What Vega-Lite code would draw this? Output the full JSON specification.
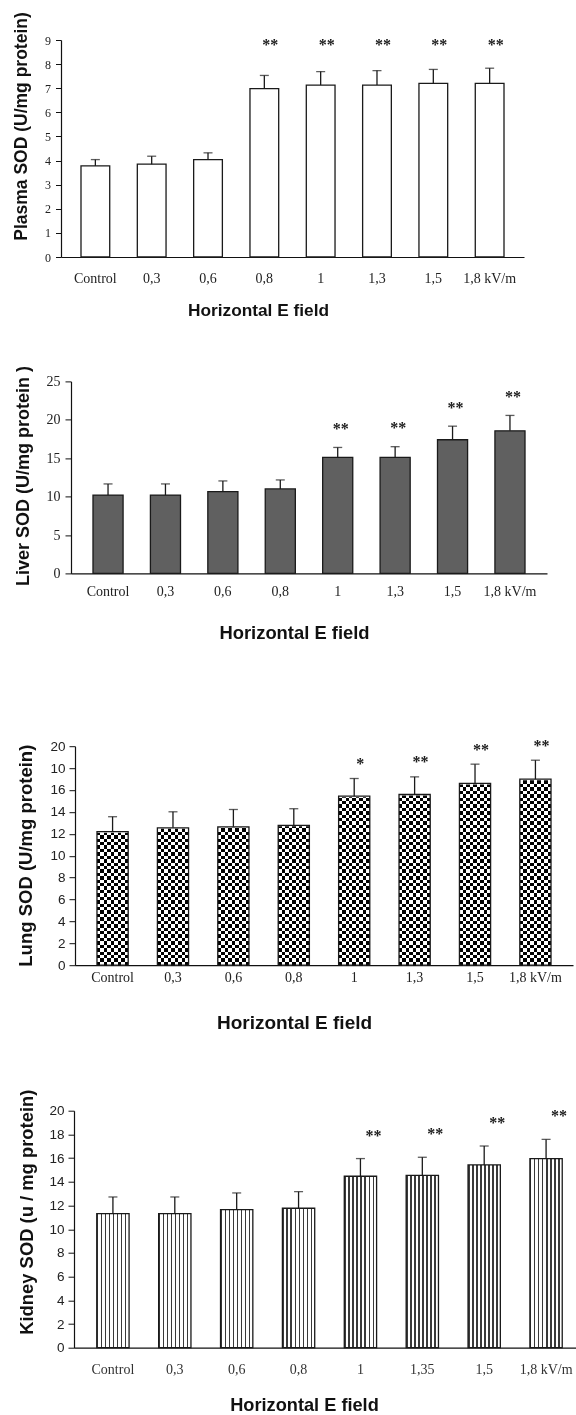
{
  "$schema": "https://vega.github.io/schema/vega-lite/v6.json",
  "background": "white",
  "padding": {"left": 0, "top": 11, "right": 0, "bottom": 0},
  "config": {
    "view": {"stroke": null},
    "axis": {"grid": false},
    "axisX": {"labelAngle": 0, "ticks": false, "tickSize": 0, "labelFont": "Liberation Serif", "labelFontSize": 14, "labelColor": "#222", "domainColor": "#111", "domainWidth": 1.2, "titleFont": "Liberation Sans", "titleFontWeight": "bold", "titleColor": "#111"},
    "axisY": {"domainColor": "#111", "domainWidth": 1.2, "tickColor": "#111", "tickSize": 6, "labelPadding": 5, "labelColor": "#222", "titleFont": "Liberation Sans", "titleFontWeight": "bold", "titleColor": "#111", "titleAngle": -90, "titleAlign": "center", "titleBaseline": "bottom"}
  },
  "datasets": {
    "plasma": [
      {"dose": "Control", "mean": 3.78, "upper": 4.04, "sig": ""},
      {"dose": "0,3", "mean": 3.85, "upper": 4.18, "sig": ""},
      {"dose": "0,6", "mean": 4.04, "upper": 4.32, "sig": ""},
      {"dose": "0,8", "mean": 6.98, "upper": 7.53, "sig": "**"},
      {"dose": "1", "mean": 7.13, "upper": 7.69, "sig": "**"},
      {"dose": "1,3", "mean": 7.13, "upper": 7.73, "sig": "**"},
      {"dose": "1,5", "mean": 7.2, "upper": 7.78, "sig": "**"},
      {"dose": "1,8 kV/m", "mean": 7.2, "upper": 7.83, "sig": "**"}
    ],
    "liver": [
      {"dose": "Control", "mean": 10.2, "upper": 11.65, "sig": ""},
      {"dose": "0,3", "mean": 10.2, "upper": 11.65, "sig": ""},
      {"dose": "0,6", "mean": 10.65, "upper": 12.04, "sig": ""},
      {"dose": "0,8", "mean": 11.0, "upper": 12.17, "sig": ""},
      {"dose": "1", "mean": 15.1, "upper": 16.4, "sig": "**"},
      {"dose": "1,3", "mean": 15.1, "upper": 16.5, "sig": "**"},
      {"dose": "1,5", "mean": 17.4, "upper": 19.17, "sig": "**"},
      {"dose": "1,8 kV/m", "mean": 18.57, "upper": 20.57, "sig": "**"}
    ],
    "lung": [
      {"dose": "Control", "mean": 12.19, "upper": 13.56, "sig": ""},
      {"dose": "0,3", "mean": 12.55, "upper": 14.01, "sig": ""},
      {"dose": "0,6", "mean": 12.64, "upper": 14.22, "sig": ""},
      {"dose": "0,8", "mean": 12.77, "upper": 14.29, "sig": ""},
      {"dose": "1", "mean": 15.44, "upper": 17.05, "sig": "*"},
      {"dose": "1,3", "mean": 15.59, "upper": 17.2, "sig": "**"},
      {"dose": "1,5", "mean": 16.6, "upper": 18.36, "sig": "**"},
      {"dose": "1,8 kV/m", "mean": 16.99, "upper": 18.72, "sig": "**"}
    ],
    "kidney": [
      {"dose": "Control", "mean": 11.32, "upper": 12.72, "sig": ""},
      {"dose": "0,3", "mean": 11.32, "upper": 12.72, "sig": ""},
      {"dose": "0,6", "mean": 11.66, "upper": 13.06, "sig": ""},
      {"dose": "0,8", "mean": 11.77, "upper": 13.17, "sig": ""},
      {"dose": "1", "mean": 14.47, "upper": 15.96, "sig": "**"},
      {"dose": "1,35", "mean": 14.55, "upper": 16.07, "sig": "**"},
      {"dose": "1,5", "mean": 15.42, "upper": 17.02, "sig": "**"},
      {"dose": "1,8 kV/m", "mean": 15.96, "upper": 17.58, "sig": "**"}
    ]
  },
  "spacing": 45.4,
  "vconcat": [
    {
      "spacing": 0,
      "hconcat": [
        {"width": 10.6, "height": 1, "data": {"values": [{}]}, "mark": {"type": "text", "text": ""}, "encoding": {}},
        {
          "width": 463,
          "height": 217,
          "data": {"name": "plasma"},
          "encoding": {
            "x": {
              "field": "dose", "type": "nominal", "sort": null,
              "scale": {"paddingInner": 0.49, "paddingOuter": 0.355},
              "axis": {"title": "Horizontal E field", "labelPadding": 14, "titleFontSize": 17.3, "titlePadding": 16.3, "titleX": 197}
            }
          },
          "layer": [
            {
              "mark": {"type": "bar", "fill": "white", "stroke": "#1a1a1a", "strokeWidth": 1.3},
              "encoding": {
                "y": {"field": "mean", "type": "quantitative", "scale": {"domain": [0, 9], "nice": false},
                  "axis": {"title": "Plasma SOD (U/mg protein)", "values": [0, 1, 2, 3, 4, 5, 6, 7, 8, 9], "tickSize": 5.5, "labelFont": "Liberation Serif", "labelFontSize": 12, "titleFontSize": 17.5, "titleX": -31, "titleY": 86}}
              }
            },
            {
              "mark": {"type": "rule", "color": "#1a1a1a", "strokeWidth": 1.3},
              "encoding": {
                "y": {"field": "mean", "type": "quantitative",
                  "axis": {"title": "Plasma SOD (U/mg protein)", "values": [0, 1, 2, 3, 4, 5, 6, 7, 8, 9], "tickSize": 5.5, "labelFont": "Liberation Serif", "labelFontSize": 12, "titleFontSize": 17.5, "titleX": -31, "titleY": 86}},
                "y2": {"field": "upper"}
              }
            },
            {
              "mark": {"type": "tick", "color": "#1a1a1a", "thickness": 1.3, "size": 9},
              "encoding": {
                "y": {"field": "upper", "type": "quantitative",
                  "axis": {"title": "Plasma SOD (U/mg protein)", "values": [0, 1, 2, 3, 4, 5, 6, 7, 8, 9], "tickSize": 5.5, "labelFont": "Liberation Serif", "labelFontSize": 12, "titleFontSize": 17.5, "titleX": -31, "titleY": 86}}
              }
            },
            {
              "mark": {"type": "text", "font": "Liberation Serif", "fontWeight": "bold", "fontSize": 16, "color": "#1a1a1a", "dx": 6, "baseline": "middle"},
              "encoding": {
                "y": {"datum": 8.8, "type": "quantitative",
                  "axis": {"title": "Plasma SOD (U/mg protein)", "values": [0, 1, 2, 3, 4, 5, 6, 7, 8, 9], "tickSize": 5.5, "labelFont": "Liberation Serif", "labelFontSize": 12, "titleFontSize": 17.5, "titleX": -31, "titleY": 86}},
                "text": {"field": "sig"}
              }
            }
          ]
        }
      ]
    },
    {
      "spacing": 94.8,
      "vconcat": [
        {
          "spacing": 0,
          "hconcat": [
            {"width": 12.4, "height": 1, "data": {"values": [{}]}, "mark": {"type": "text", "text": ""}, "encoding": {}},
            {
              "width": 476,
              "height": 192,
              "data": {"name": "liver"},
              "encoding": {
                "x": {
                  "field": "dose", "type": "nominal", "sort": null,
                  "scale": {"paddingInner": 0.476, "paddingOuter": 0.383},
                  "axis": {"title": "Horizontal E field", "labelPadding": 11, "titleFontSize": 18.4, "titlePadding": 25.3, "titleX": 223}
                }
              },
              "layer": [
                {
                  "mark": {"type": "bar", "fill": "#606060", "stroke": "#1a1a1a", "strokeWidth": 1.3},
                  "encoding": {
                    "y": {"field": "mean", "type": "quantitative", "scale": {"domain": [0, 25], "nice": false},
                      "axis": {"title": "Liver SOD (U/mg protein )", "values": [0, 5, 10, 15, 20, 25], "labelFont": "Liberation Serif", "labelFontSize": 14, "titleFontSize": 18, "titleX": -39, "titleY": 94}}
                  }
                },
                {
                  "mark": {"type": "rule", "color": "#1a1a1a", "strokeWidth": 1.3},
                  "encoding": {
                    "y": {"field": "mean", "type": "quantitative",
                      "axis": {"title": "Liver SOD (U/mg protein )", "values": [0, 5, 10, 15, 20, 25], "labelFont": "Liberation Serif", "labelFontSize": 14, "titleFontSize": 18, "titleX": -39, "titleY": 94}},
                    "y2": {"field": "upper"}
                  }
                },
                {
                  "mark": {"type": "tick", "color": "#1a1a1a", "thickness": 1.3, "size": 9},
                  "encoding": {
                    "y": {"field": "upper", "type": "quantitative",
                      "axis": {"title": "Liver SOD (U/mg protein )", "values": [0, 5, 10, 15, 20, 25], "labelFont": "Liberation Serif", "labelFontSize": 14, "titleFontSize": 18, "titleX": -39, "titleY": 94}}
                  }
                },
                {
                  "mark": {"type": "text", "font": "Liberation Serif", "fontWeight": "bold", "fontSize": 16, "color": "#1a1a1a", "dx": 3, "dy": -18.5, "baseline": "middle"},
                  "encoding": {
                    "y": {"field": "upper", "type": "quantitative",
                      "axis": {"title": "Liver SOD (U/mg protein )", "values": [0, 5, 10, 15, 20, 25], "labelFont": "Liberation Serif", "labelFontSize": 14, "titleFontSize": 18, "titleX": -39, "titleY": 94}},
                    "text": {"field": "sig"}
                  }
                }
              ]
            }
          ]
        },
        {
          "spacing": 55.5,
          "vconcat": [
            {
              "spacing": 0,
              "hconcat": [
                {"width": 15.7, "height": 1, "data": {"values": [{}]}, "mark": {"type": "text", "text": ""}, "encoding": {}},
                {
                  "width": 498,
                  "height": 219,
                  "data": {"name": "lung"},
                  "encoding": {
                    "x": {
                      "field": "dose", "type": "nominal", "sort": null,
                      "scale": {"paddingInner": 0.484, "paddingOuter": 0.364},
                      "axis": {"title": "Horizontal E field", "labelPadding": 5, "titleFontSize": 19, "titlePadding": 29.2, "titleX": 219}
                    }
                  },
                  "layer": [
                    {
                      "mark": {"type": "bar", "stroke": null, "fill": {"gradient": "linear", "x1": 0, "y1": 0, "x2": 1, "y2": 0, "stops": [
                        {"offset": 0, "color": "#000"}, {"offset": 0.1111, "color": "#000"}, {"offset": 0.1111, "color": "#fff"}, {"offset": 0.2222, "color": "#fff"},
                        {"offset": 0.2222, "color": "#000"}, {"offset": 0.3333, "color": "#000"}, {"offset": 0.3333, "color": "#fff"}, {"offset": 0.4444, "color": "#fff"},
                        {"offset": 0.4444, "color": "#000"}, {"offset": 0.5556, "color": "#000"}, {"offset": 0.5556, "color": "#fff"}, {"offset": 0.6667, "color": "#fff"},
                        {"offset": 0.6667, "color": "#000"}, {"offset": 0.7778, "color": "#000"}, {"offset": 0.7778, "color": "#fff"}, {"offset": 0.8889, "color": "#fff"},
                        {"offset": 0.8889, "color": "#000"}, {"offset": 1, "color": "#000"}
                      ]}},
                      "encoding": {
                        "y": {"field": "mean", "type": "quantitative", "scale": {"domain": [0, 20], "nice": false},
                          "axis": {"title": "Lung SOD (U/mg protein)", "values": [0, 2, 4, 6, 8, 10, 12, 14, 16, 18, 20], "labelExpr": "datum.value == 18 ? '10' : datum.label", "labelPadding": 4, "labelFont": "Liberation Sans", "labelFontSize": 13.5, "titleFontSize": 18.5, "titleX": -39.6, "titleY": 109}}
                      }
                    },
                    {
                      "mark": {"type": "bar", "stroke": null, "blend": "difference", "fill": {"gradient": "linear", "x1": 0, "y1": 0, "x2": 0, "y2": 1, "stops": [
                        {"offset": 0, "color": "#fff"}, {"offset": 0.015625, "color": "#fff"}, {"offset": 0.015625, "color": "transparent"}, {"offset": 0.03125, "color": "transparent"},
                        {"offset": 0.03125, "color": "#fff"}, {"offset": 0.046875, "color": "#fff"}, {"offset": 0.046875, "color": "transparent"}, {"offset": 0.0625, "color": "transparent"},
                        {"offset": 0.0625, "color": "#fff"}, {"offset": 0.078125, "color": "#fff"}, {"offset": 0.078125, "color": "transparent"}, {"offset": 0.09375, "color": "transparent"},
                        {"offset": 0.09375, "color": "#fff"}, {"offset": 0.109375, "color": "#fff"}, {"offset": 0.109375, "color": "transparent"}, {"offset": 0.125, "color": "transparent"},
                        {"offset": 0.125, "color": "#fff"}, {"offset": 0.140625, "color": "#fff"}, {"offset": 0.140625, "color": "transparent"}, {"offset": 0.15625, "color": "transparent"},
                        {"offset": 0.15625, "color": "#fff"}, {"offset": 0.171875, "color": "#fff"}, {"offset": 0.171875, "color": "transparent"}, {"offset": 0.1875, "color": "transparent"},
                        {"offset": 0.1875, "color": "#fff"}, {"offset": 0.203125, "color": "#fff"}, {"offset": 0.203125, "color": "transparent"}, {"offset": 0.21875, "color": "transparent"},
                        {"offset": 0.21875, "color": "#fff"}, {"offset": 0.234375, "color": "#fff"}, {"offset": 0.234375, "color": "transparent"}, {"offset": 0.25, "color": "transparent"},
                        {"offset": 0.25, "color": "#fff"}, {"offset": 0.265625, "color": "#fff"}, {"offset": 0.265625, "color": "transparent"}, {"offset": 0.28125, "color": "transparent"},
                        {"offset": 0.28125, "color": "#fff"}, {"offset": 0.296875, "color": "#fff"}, {"offset": 0.296875, "color": "transparent"}, {"offset": 0.3125, "color": "transparent"},
                        {"offset": 0.3125, "color": "#fff"}, {"offset": 0.328125, "color": "#fff"}, {"offset": 0.328125, "color": "transparent"}, {"offset": 0.34375, "color": "transparent"},
                        {"offset": 0.34375, "color": "#fff"}, {"offset": 0.359375, "color": "#fff"}, {"offset": 0.359375, "color": "transparent"}, {"offset": 0.375, "color": "transparent"},
                        {"offset": 0.375, "color": "#fff"}, {"offset": 0.390625, "color": "#fff"}, {"offset": 0.390625, "color": "transparent"}, {"offset": 0.40625, "color": "transparent"},
                        {"offset": 0.40625, "color": "#fff"}, {"offset": 0.421875, "color": "#fff"}, {"offset": 0.421875, "color": "transparent"}, {"offset": 0.4375, "color": "transparent"},
                        {"offset": 0.4375, "color": "#fff"}, {"offset": 0.453125, "color": "#fff"}, {"offset": 0.453125, "color": "transparent"}, {"offset": 0.46875, "color": "transparent"},
                        {"offset": 0.46875, "color": "#fff"}, {"offset": 0.484375, "color": "#fff"}, {"offset": 0.484375, "color": "transparent"}, {"offset": 0.5, "color": "transparent"},
                        {"offset": 0.5, "color": "#fff"}, {"offset": 0.515625, "color": "#fff"}, {"offset": 0.515625, "color": "transparent"}, {"offset": 0.53125, "color": "transparent"},
                        {"offset": 0.53125, "color": "#fff"}, {"offset": 0.546875, "color": "#fff"}, {"offset": 0.546875, "color": "transparent"}, {"offset": 0.5625, "color": "transparent"},
                        {"offset": 0.5625, "color": "#fff"}, {"offset": 0.578125, "color": "#fff"}, {"offset": 0.578125, "color": "transparent"}, {"offset": 0.59375, "color": "transparent"},
                        {"offset": 0.59375, "color": "#fff"}, {"offset": 0.609375, "color": "#fff"}, {"offset": 0.609375, "color": "transparent"}, {"offset": 0.625, "color": "transparent"},
                        {"offset": 0.625, "color": "#fff"}, {"offset": 0.640625, "color": "#fff"}, {"offset": 0.640625, "color": "transparent"}, {"offset": 0.65625, "color": "transparent"},
                        {"offset": 0.65625, "color": "#fff"}, {"offset": 0.671875, "color": "#fff"}, {"offset": 0.671875, "color": "transparent"}, {"offset": 0.6875, "color": "transparent"},
                        {"offset": 0.6875, "color": "#fff"}, {"offset": 0.703125, "color": "#fff"}, {"offset": 0.703125, "color": "transparent"}, {"offset": 0.71875, "color": "transparent"},
                        {"offset": 0.71875, "color": "#fff"}, {"offset": 0.734375, "color": "#fff"}, {"offset": 0.734375, "color": "transparent"}, {"offset": 0.75, "color": "transparent"},
                        {"offset": 0.75, "color": "#fff"}, {"offset": 0.765625, "color": "#fff"}, {"offset": 0.765625, "color": "transparent"}, {"offset": 0.78125, "color": "transparent"},
                        {"offset": 0.78125, "color": "#fff"}, {"offset": 0.796875, "color": "#fff"}, {"offset": 0.796875, "color": "transparent"}, {"offset": 0.8125, "color": "transparent"},
                        {"offset": 0.8125, "color": "#fff"}, {"offset": 0.828125, "color": "#fff"}, {"offset": 0.828125, "color": "transparent"}, {"offset": 0.84375, "color": "transparent"},
                        {"offset": 0.84375, "color": "#fff"}, {"offset": 0.859375, "color": "#fff"}, {"offset": 0.859375, "color": "transparent"}, {"offset": 0.875, "color": "transparent"},
                        {"offset": 0.875, "color": "#fff"}, {"offset": 0.890625, "color": "#fff"}, {"offset": 0.890625, "color": "transparent"}, {"offset": 0.90625, "color": "transparent"},
                        {"offset": 0.90625, "color": "#fff"}, {"offset": 0.921875, "color": "#fff"}, {"offset": 0.921875, "color": "transparent"}, {"offset": 0.9375, "color": "transparent"},
                        {"offset": 0.9375, "color": "#fff"}, {"offset": 0.953125, "color": "#fff"}, {"offset": 0.953125, "color": "transparent"}, {"offset": 0.96875, "color": "transparent"},
                        {"offset": 0.96875, "color": "#fff"}, {"offset": 0.984375, "color": "#fff"}, {"offset": 0.984375, "color": "transparent"}, {"offset": 1, "color": "transparent"}
                      ]}},
                      "encoding": {
                        "y": {"datum": 20, "type": "quantitative",
                          "axis": {"title": "Lung SOD (U/mg protein)", "values": [0, 2, 4, 6, 8, 10, 12, 14, 16, 18, 20], "labelExpr": "datum.value == 18 ? '10' : datum.label", "labelPadding": 4, "labelFont": "Liberation Sans", "labelFontSize": 13.5, "titleFontSize": 18.5, "titleX": -39.6, "titleY": 109}}
                      }
                    },
                    {
                      "mark": {"type": "bar", "fill": "white", "stroke": "white", "strokeWidth": 2},
                      "encoding": {
                        "y": {"field": "mean", "type": "quantitative",
                          "axis": {"title": "Lung SOD (U/mg protein)", "values": [0, 2, 4, 6, 8, 10, 12, 14, 16, 18, 20], "labelExpr": "datum.value == 18 ? '10' : datum.label", "labelPadding": 4, "labelFont": "Liberation Sans", "labelFontSize": 13.5, "titleFontSize": 18.5, "titleX": -39.6, "titleY": 109}},
                        "y2": {"datum": 20}
                      }
                    },
                    {
                      "mark": {"type": "bar", "fillOpacity": 0, "stroke": "#1a1a1a", "strokeWidth": 1.3},
                      "encoding": {
                        "y": {"field": "mean", "type": "quantitative",
                          "axis": {"title": "Lung SOD (U/mg protein)", "values": [0, 2, 4, 6, 8, 10, 12, 14, 16, 18, 20], "labelExpr": "datum.value == 18 ? '10' : datum.label", "labelPadding": 4, "labelFont": "Liberation Sans", "labelFontSize": 13.5, "titleFontSize": 18.5, "titleX": -39.6, "titleY": 109}}
                      }
                    },
                    {
                      "mark": {"type": "rule", "color": "#1a1a1a", "strokeWidth": 1.3},
                      "encoding": {
                        "y": {"field": "mean", "type": "quantitative",
                          "axis": {"title": "Lung SOD (U/mg protein)", "values": [0, 2, 4, 6, 8, 10, 12, 14, 16, 18, 20], "labelExpr": "datum.value == 18 ? '10' : datum.label", "labelPadding": 4, "labelFont": "Liberation Sans", "labelFontSize": 13.5, "titleFontSize": 18.5, "titleX": -39.6, "titleY": 109}},
                        "y2": {"field": "upper"}
                      }
                    },
                    {
                      "mark": {"type": "tick", "color": "#1a1a1a", "thickness": 1.3, "size": 9},
                      "encoding": {
                        "y": {"field": "upper", "type": "quantitative",
                          "axis": {"title": "Lung SOD (U/mg protein)", "values": [0, 2, 4, 6, 8, 10, 12, 14, 16, 18, 20], "labelExpr": "datum.value == 18 ? '10' : datum.label", "labelPadding": 4, "labelFont": "Liberation Sans", "labelFontSize": 13.5, "titleFontSize": 18.5, "titleX": -39.6, "titleY": 109}}
                      }
                    },
                    {
                      "mark": {"type": "text", "font": "Liberation Serif", "fontWeight": "bold", "fontSize": 16, "color": "#1a1a1a", "dx": 6, "dy": -14.5, "baseline": "middle"},
                      "encoding": {
                        "y": {"field": "upper", "type": "quantitative",
                          "axis": {"title": "Lung SOD (U/mg protein)", "values": [0, 2, 4, 6, 8, 10, 12, 14, 16, 18, 20], "labelExpr": "datum.value == 18 ? '10' : datum.label", "labelPadding": 4, "labelFont": "Liberation Sans", "labelFontSize": 13.5, "titleFontSize": 18.5, "titleX": -39.6, "titleY": 109}},
                        "text": {"field": "sig"}
                      }
                    }
                  ]
                }
              ]
            },
            {
              "spacing": 0,
              "hconcat": [
                {"width": 16.2, "height": 1, "data": {"values": [{}]}, "mark": {"type": "text", "text": ""}, "encoding": {}},
                {
                  "width": 511,
                  "height": 237,
                  "data": {"name": "kidney"},
                  "encoding": {
                    "x": {
                      "field": "dose", "type": "nominal", "sort": null,
                      "scale": {"paddingInner": 0.478, "paddingOuter": 0.368},
                      "axis": {"title": "Horizontal E field", "labelPadding": 14.5, "labelColor": "#333", "titleFontSize": 18.2, "titlePadding": 20.4, "titleX": 230}
                    }
                  },
                  "layer": [
                    {
                      "mark": {"type": "bar", "stroke": "#1a1a1a", "strokeWidth": 1.3, "fill": {"gradient": "linear", "x1": 0, "y1": 0, "x2": 1, "y2": 0, "stops": [
                        {"offset": 0, "color": "#3a3a3a"}, {"offset": 0.045, "color": "#3a3a3a"}, {"offset": 0.045, "color": "#fff"}, {"offset": 0.125, "color": "#fff"},
                        {"offset": 0.125, "color": "#3a3a3a"}, {"offset": 0.17, "color": "#3a3a3a"}, {"offset": 0.17, "color": "#fff"}, {"offset": 0.25, "color": "#fff"},
                        {"offset": 0.25, "color": "#3a3a3a"}, {"offset": 0.295, "color": "#3a3a3a"}, {"offset": 0.295, "color": "#fff"}, {"offset": 0.375, "color": "#fff"},
                        {"offset": 0.375, "color": "#3a3a3a"}, {"offset": 0.42, "color": "#3a3a3a"}, {"offset": 0.42, "color": "#fff"}, {"offset": 0.5, "color": "#fff"},
                        {"offset": 0.5, "color": "#3a3a3a"}, {"offset": 0.545, "color": "#3a3a3a"}, {"offset": 0.545, "color": "#fff"}, {"offset": 0.625, "color": "#fff"},
                        {"offset": 0.625, "color": "#3a3a3a"}, {"offset": 0.67, "color": "#3a3a3a"}, {"offset": 0.67, "color": "#fff"}, {"offset": 0.75, "color": "#fff"},
                        {"offset": 0.75, "color": "#3a3a3a"}, {"offset": 0.795, "color": "#3a3a3a"}, {"offset": 0.795, "color": "#fff"}, {"offset": 0.875, "color": "#fff"},
                        {"offset": 0.875, "color": "#3a3a3a"}, {"offset": 0.92, "color": "#3a3a3a"}, {"offset": 0.92, "color": "#fff"}, {"offset": 1, "color": "#fff"}
                      ]}},
                      "encoding": {
                        "y": {"field": "mean", "type": "quantitative", "scale": {"domain": [0, 20], "nice": false},
                          "axis": {"title": "Kidney SOD (u / mg protein)", "values": [0, 2, 4, 6, 8, 10, 12, 14, 16, 18, 20], "labelPadding": 4, "labelFont": "Liberation Sans", "labelFontSize": 13.5, "titleFontSize": 18.4, "titleX": -37.8, "titleY": 101}}
                      }
                    },
                    {
                      "mark": {"type": "rule", "color": "#1a1a1a", "strokeWidth": 1.3},
                      "encoding": {
                        "y": {"field": "mean", "type": "quantitative",
                          "axis": {"title": "Kidney SOD (u / mg protein)", "values": [0, 2, 4, 6, 8, 10, 12, 14, 16, 18, 20], "labelPadding": 4, "labelFont": "Liberation Sans", "labelFontSize": 13.5, "titleFontSize": 18.4, "titleX": -37.8, "titleY": 101}},
                        "y2": {"field": "upper"}
                      }
                    },
                    {
                      "mark": {"type": "tick", "color": "#1a1a1a", "thickness": 1.3, "size": 9},
                      "encoding": {
                        "y": {"field": "upper", "type": "quantitative",
                          "axis": {"title": "Kidney SOD (u / mg protein)", "values": [0, 2, 4, 6, 8, 10, 12, 14, 16, 18, 20], "labelPadding": 4, "labelFont": "Liberation Sans", "labelFontSize": 13.5, "titleFontSize": 18.4, "titleX": -37.8, "titleY": 101}}
                      }
                    },
                    {
                      "mark": {"type": "text", "font": "Liberation Serif", "fontWeight": "bold", "fontSize": 16, "color": "#1a1a1a", "dx": 13, "dy": -23, "baseline": "middle"},
                      "encoding": {
                        "y": {"field": "upper", "type": "quantitative",
                          "axis": {"title": "Kidney SOD (u / mg protein)", "values": [0, 2, 4, 6, 8, 10, 12, 14, 16, 18, 20], "labelPadding": 4, "labelFont": "Liberation Sans", "labelFontSize": 13.5, "titleFontSize": 18.4, "titleX": -37.8, "titleY": 101}},
                        "text": {"field": "sig"}
                      }
                    }
                  ]
                }
              ]
            }
          ]
        }
      ]
    }
  ]
}
